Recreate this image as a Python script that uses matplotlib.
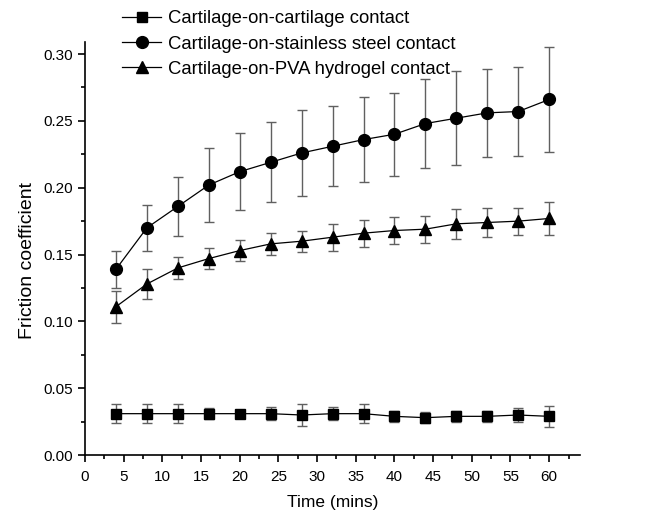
import numpy as np
import matplotlib.pyplot as plt
from matplotlib.ticker import MultipleLocator

plt.rcParams['font.family'] = ['Liberation Sans', 'DejaVu Sans']

# Time points (mins)
time = [4, 8, 12, 16, 20, 24, 28, 32, 36, 40, 44, 48, 52, 56, 60]

# Cartilage-on-cartilage
cc_mean = [0.031, 0.031, 0.031, 0.031, 0.031, 0.031, 0.030, 0.031, 0.031, 0.029, 0.028, 0.029, 0.029, 0.030, 0.029]
cc_err = [0.007, 0.007, 0.007, 0.004, 0.002, 0.005, 0.008, 0.005, 0.007, 0.004, 0.004, 0.004, 0.004, 0.005, 0.008]

# Cartilage-on-stainless steel
ss_mean = [0.139, 0.170, 0.186, 0.202, 0.212, 0.219, 0.226, 0.231, 0.236, 0.240, 0.248, 0.252, 0.256, 0.257, 0.266]
ss_err = [0.014, 0.017, 0.022, 0.028, 0.029, 0.030, 0.032, 0.030, 0.032, 0.031, 0.033, 0.035, 0.033, 0.033, 0.039]

# Cartilage-on-PVA hydrogel
pva_mean = [0.111, 0.128, 0.140, 0.147, 0.153, 0.158, 0.160, 0.163, 0.166, 0.168, 0.169, 0.173, 0.174, 0.175, 0.177]
pva_err = [0.012, 0.011, 0.008, 0.008, 0.008, 0.008, 0.008, 0.010, 0.010, 0.010, 0.010, 0.011, 0.011, 0.010, 0.012]

labels = ['Cartilage-on-cartilage contact',
          'Cartilage-on-stainless steel contact',
          'Cartilage-on-PVA hydrogel contact']

fig = plt.figure(figsize=(6.46, 5.16), dpi=100)
ax = fig.add_axes([0.1316, 0.118, 0.7664, 0.8006])

series = [(cc_mean, cc_err, 's', 7), (ss_mean, ss_err, 'o', 8.5), (pva_mean, pva_err, '^', 8.5)]
handles = []
for (m, e, mk, ms), lab in zip(series, labels):
    ax.errorbar(time, m, yerr=e, fmt='none', ecolor='#606060', elinewidth=1, capsize=3.8, capthick=1)
    h, = ax.plot(time, m, color='black', lw=0.9, marker=mk, markersize=ms, label=lab)
    handles.append(h)

ax.set_xlim(0, 64)
ax.set_ylim(0, 0.309)
ax.xaxis.set_major_locator(MultipleLocator(5))
ax.xaxis.set_minor_locator(MultipleLocator(2.5))
ax.yaxis.set_major_locator(MultipleLocator(0.05))
ax.yaxis.set_minor_locator(MultipleLocator(0.025))
ax.yaxis.set_major_formatter(plt.FormatStrFormatter('%.2f'))
for s in ['top', 'right']:
    ax.spines[s].set_visible(False)
ax.spines['left'].set_linewidth(1.2)
ax.spines['bottom'].set_linewidth(1.2)
ax.tick_params(which='major', direction='out', length=5, width=1.2, labelsize=11)
ax.tick_params(which='minor', direction='out', length=3, width=1.2)
ax.tick_params(axis='x', which='major', pad=5.8)

ax.set_xlabel('Time (mins)', fontsize=12.5, labelpad=8)
ax.set_ylabel('Friction coefficient', fontsize=14)
ax.yaxis.set_label_coords(-0.10, 0.471)

ax.legend(handles=handles, loc='upper left', bbox_to_anchor=(0.175, 0.998),
          bbox_transform=fig.transFigure, frameon=False, fontsize=13.3,
          handlelength=2.1, handletextpad=0.4, labelspacing=0.45, borderpad=0)

fig.savefig('out.png', dpi=100)
